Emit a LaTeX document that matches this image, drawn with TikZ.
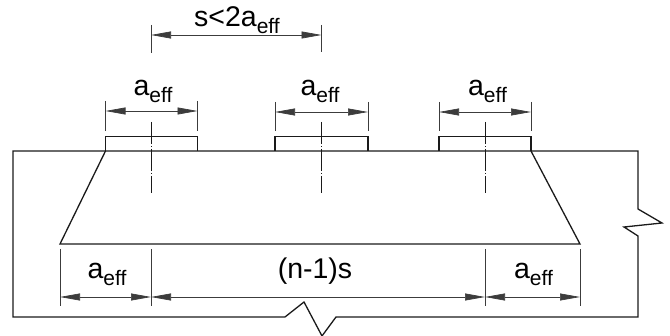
\documentclass[tikz,border=0pt]{standalone}
\usepackage{fontspec}
\setmainfont{Liberation Sans}
\usetikzlibrary{calc,arrows.meta}
\definecolor{ink}{HTML}{1A1A1A}
\definecolor{thin}{HTML}{3C3C3C}
\newcommand{\aeff}{a\raisebox{-0.24em}{\fontsize{21}{21}\selectfont eff}}
\tikzset{
  base/.style={draw=ink, line width=1.3pt, line join=miter},
  ext/.style={draw=thin, line width=0.8pt},
  axis/.style={draw=ink, line width=0.8pt, dash pattern=on 22pt off 2pt on 1pt off 2pt},
  dimen/.style={draw=thin, line width=0.7pt, {Triangle[length=20pt,width=7pt]}-{Triangle[length=20pt,width=7pt]}},
  lab/.style={text=black, font=\fontsize{28.5}{28.5}\selectfont, inner sep=0pt, anchor=base},
}

\begin{document}
\begin{tikzpicture}[x=1pt,y=-1pt]
  \useasboundingbox (0,0) rectangle (670,336);

  % slab outline with the two break marks
  \coordinate (TL) at (13,151);
  \coordinate (TR) at (638,151);
  \coordinate (BL) at (13,317);
  \coordinate (BR) at (638,317);
  \draw[base] (TL)--(TR)--(638,209)--(662,223)--(624,227)--(638,236)--(BR)
    --(336,317)--(322,336)--(304,302)--(285,317)--(BL)--cycle;

  % pads
  \foreach \n/\xa/\xc/\xb/\yd/\xl in {L/105.5/151/197.5/111/153,M/275/321.5/368/112/320,R/439/485/531/112/487.5}{
    \coordinate (\n a) at (\xa,151);
    \coordinate (\n b) at (\xb,151);
    \draw[base] (\n a)--(\xa,136.4)--(\xb,136.4)--(\n b);
    \draw[axis] (\xc,122)--(\xc,193);
    \draw[ext] (\xa,\yd-10)--(\xa,131);
    \draw[ext] (\xb,\yd-10)--(\xb,131);
    \draw[dimen] (\xa,\yd)--(\xb,\yd);
    \node[lab] (lab\n) at (\xl,96) {\aeff};
  }

  % spread
  \coordinate (SL) at (60,244);
  \coordinate (SR) at (580,244);
  \draw[base] (La)--(SL)--(SR)--(Rb);

  % top dimension
  \coordinate (D1) at (151,35);
  \coordinate (D2) at (321.5,35);
  \draw[ext] (151,25)--(151,53);
  \draw[ext] (321.5,25)--(321.5,52);
  \draw[dimen] (D1)--(D2);
  \node[lab] (labS) at (237,27) {s<2\aeff};

  % bottom dimensions
  \coordinate (B1) at (60,297);
  \coordinate (B2) at (151,297);
  \coordinate (B3) at (485,297);
  \coordinate (B4) at (580,297);
  \foreach \p in {B1,B2,B3,B4}{
    \draw[ext] ($(\p)+(0,-48)$)--($(\p)+(0,9)$);
  }
  \draw[dimen] (B1)--(B2);
  \draw[dimen] (B2)--(B3);
  \draw[dimen] (B3)--(B4);
  \node[lab] (labA) at (107,279) {\aeff};
  \node[lab] (labN) at (315,279) {(n-1)s};
  \node[lab] (labB) at (533.5,279) {\aeff};
\end{tikzpicture}
\end{document}
